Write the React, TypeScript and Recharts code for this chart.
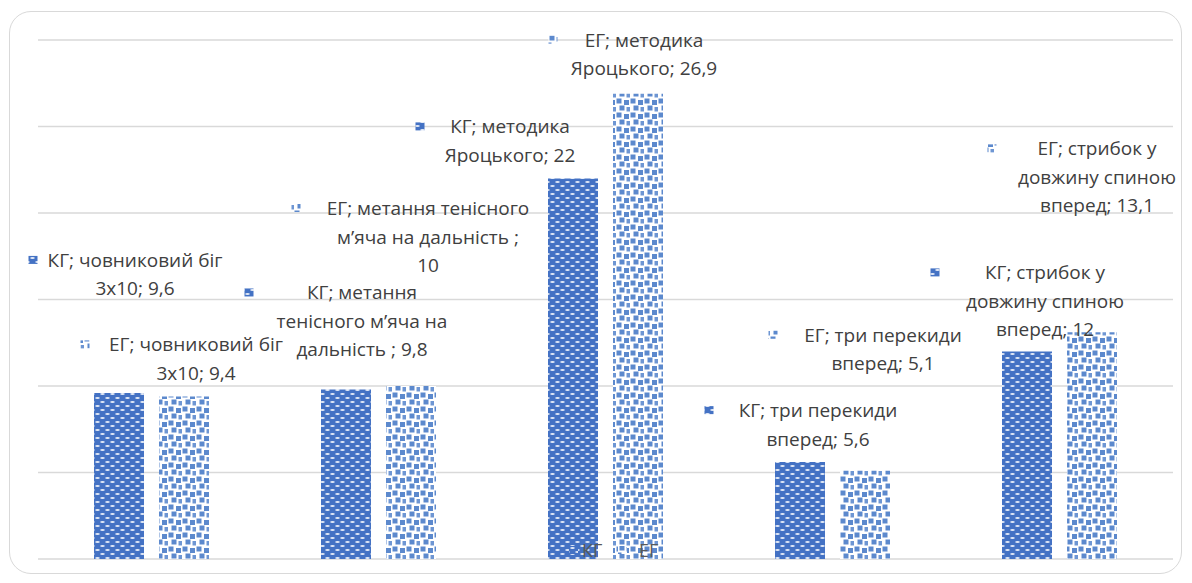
import { BarChart, Bar, XAxis, YAxis, CartesianGrid, LabelList, Legend } from "recharts";

const categories = [
  "човниковий біг 3x10",
  "метання тенісного м’яча на дальність ",
  "методика Яроцького",
  "три перекиди вперед",
  "стрибок у довжину спиною вперед",
];
const kgValues = [9.6, 9.8, 22, 5.6, 12];
const egValues = [9.4, 10, 26.9, 5.1, 13.1];
const yTicks = [0, 5, 10, 15, 20, 25, 30];
const seriesNames = ["КГ", "ЕГ"];

// label placement (Excel labels were dragged around by hand)
// [dx from bar centre, dy from bar top, marker dx from text centre, wrap width in chars]
const kgLabelPos = [
  [16, -133, -102, 18],
  [16, -97, -113, 18],
  [-63, -52, -90, 14],
  [18, -52, -109, 16],
  [18, -79, -110, 14],
];
const egLabelPos = [
  [12, -52, -111, 18],
  [17, -178, -132, 21],
  [6, -54, -91, 15],
  [18, -136, -110, 16],
  [5, -184, -105, 14],
];

const data = categories.map((c, i) => ({ name: c, kg: kgValues[i], eg: egValues[i] }));

const FONT = "'Open Sans', 'Noto Sans', sans-serif";
const TEXT = "#404040";

const wrap = (s: string, max: number) => {
  const words = s.split(" ").filter((w) => w !== "");
  const lines: string[] = [];
  let cur = "";
  words.forEach((w) => {
    const next = cur ? cur + " " + w : w;
    if (next.length > max && cur) {
      lines.push(cur);
      cur = w;
    } else cur = next;
  });
  if (cur) lines.push(cur);
  return lines;
};

const makeLabel = (series: number, pos: number[][], patt: string) => (props: any) => {
  const { x, y, width, index, value } = props;
  const [dx, dy, mdx, maxChars] = pos[index];
  const full = `${seriesNames[series]}; ${categories[index]}; ${String(value).replace(".", ",")}`;
  const lines = wrap(full, maxChars);
  const cx = Number(x) + Number(width) / 2 + dx;
  const y0 = Number(y) + dy;
  return (
    <g>
      <rect x={cx + mdx - 4.5} y={y0 - 4} width={9} height={8} fill={`url(#${patt})`} />
      {lines.map((l, k) => (
        <text
          key={k}
          x={cx}
          y={y0 + k * 28.5}
          textAnchor="middle"
          dominantBaseline="central"
          fontFamily={FONT}
          fontSize={19}
          fill={TEXT}
        >
          {l}
        </text>
      ))}
    </g>
  );
};

const renderLegend = () => (
  <svg width={110} height={24} style={{ display: "block" }}>
    <rect x={9} y={8} width={9} height={8} fill="url(#pKG)" />
    <text x={22} y={12} dominantBaseline="central" fontFamily={FONT} fontSize={18} fill="#595959">
      {seriesNames[0]}
    </text>
    <rect x={58} y={8} width={9} height={8} fill="url(#pEG)" />
    <text x={79} y={12} dominantBaseline="central" fontFamily={FONT} fontSize={18} fill="#595959">
      {seriesNames[1]}
    </text>
  </svg>
);

export default function App() {
  return (
    <div style={{ position: "absolute", left: 0, top: 0, width: 1192, height: 583, background: "#fff" }}>
      <div
        style={{
          position: "absolute",
          left: 9,
          top: 11,
          width: 1173,
          height: 563,
          border: "1.5px solid #d9d9d9",
          borderRadius: 22,
          boxSizing: "border-box",
        }}
      />
      <BarChart
        width={1192}
        height={583}
        data={data}
        margin={{ top: 40, right: 19, bottom: 24, left: 38 }}
        barSize={50}
        barGap={15}
        style={{ position: "absolute", left: 0, top: 0 }}
      >
        <defs>
          <pattern id="pKG" patternUnits="userSpaceOnUse" width={10} height={8}>
            <rect width={10} height={8} fill="#4472c4" />
            <ellipse cx={2.5} cy={2} rx={2.3} ry={1.1} fill="#ffffff" opacity={0.85} />
            <ellipse cx={7.5} cy={6} rx={2.3} ry={1.1} fill="#ffffff" opacity={0.85} />
          </pattern>
          <pattern id="pEG" patternUnits="userSpaceOnUse" width={14} height={14}>
            <rect width={14} height={14} fill="#ffffff" />
            <rect x={0.5} y={0.5} width={5} height={5} fill="#4a7cc8" opacity={0.9} />
            <rect x={8} y={2} width={5} height={5} fill="#4a7cc8" opacity={0.9} />
            <rect x={3.5} y={7.5} width={5} height={5} fill="#4a7cc8" opacity={0.9} />
            <rect x={10.5} y={9} width={3.5} height={4.5} fill="#4a7cc8" opacity={0.8} />
          </pattern>
        </defs>
        <CartesianGrid vertical={false} stroke="#d9d9d9" strokeWidth={1.3} />
        <XAxis dataKey="name" hide />
        <YAxis hide domain={[0, 30]} ticks={yTicks} />
        <Legend
          layout="horizontal"
          verticalAlign="middle"
          align="center"
          content={renderLegend}
          wrapperStyle={{ left: 560, top: 538, width: 110, height: 24 }}
        />
        <Bar dataKey="kg" name={seriesNames[0]} fill="url(#pKG)" isAnimationActive={false}>
          <LabelList dataKey="kg" content={makeLabel(0, kgLabelPos, "pKG")} />
        </Bar>
        <Bar dataKey="eg" name={seriesNames[1]} fill="url(#pEG)" isAnimationActive={false}>
          <LabelList dataKey="eg" content={makeLabel(1, egLabelPos, "pEG")} />
        </Bar>
      </BarChart>
    </div>
  );
}
